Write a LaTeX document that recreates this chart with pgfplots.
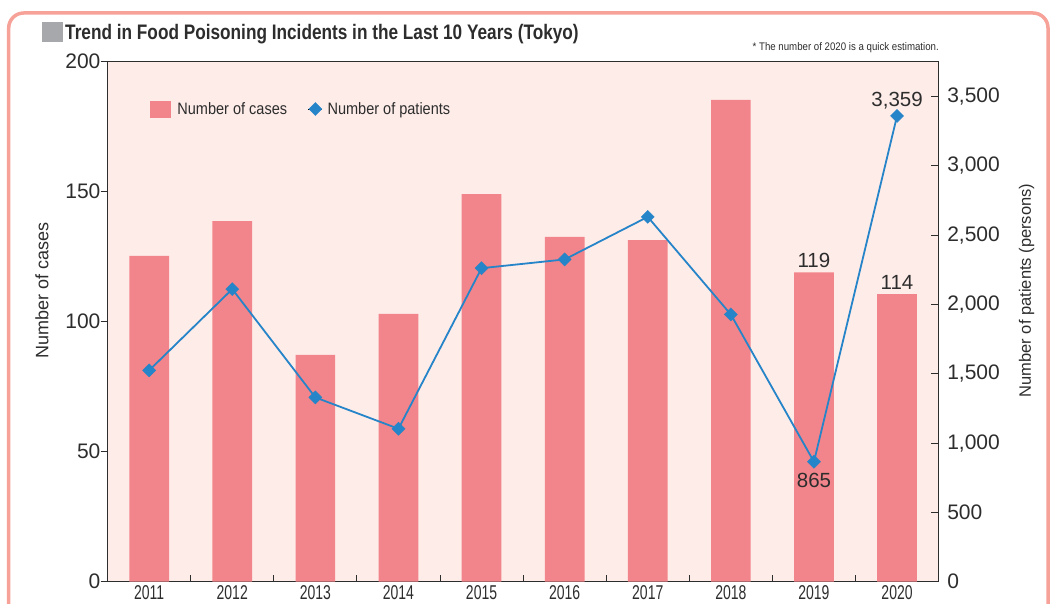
\documentclass[border=0pt]{standalone}
\usepackage{fontspec}
\setmainfont{Liberation Sans}
\newfontfamily\cond[FakeStretch=0.88]{Liberation Sans}
\newfontfamily\xcond[FakeStretch=0.70]{Liberation Sans}
\newfontfamily\titlefont[FakeStretch=0.82]{Liberation Sans}
\usepackage{pgfplots}
\pgfplotsset{compat=1.18}
\definecolor{barc}{RGB}{242,133,139}
\definecolor{bgc}{RGB}{254,236,233}
\definecolor{linec}{RGB}{38,132,200}
\definecolor{framec}{RGB}{246,162,152}
\definecolor{sqc}{RGB}{167,168,172}
\definecolor{txt}{RGB}{45,45,45}
\definecolor{axc}{RGB}{45,45,45}

\pgfplotstableread{
x cases
0 125.3
1 138.7
2 87.2
3 103
4 149.1
5 132.6
6 131.4
7 185.3
8 119
9 110.6
}\casestable

\pgfplotstableread{
x patients
0 1524
1 2110
2 1329
3 1103
4 2261
5 2324
6 2631
7 1927
8 865
9 3359
}\patientstable

\begin{document}
\begin{tikzpicture}[x=1pt,y=1pt]
\useasboundingbox (0,0) rectangle (1051,603);
\draw[framec, line width=3.5pt, rounded corners=15pt] (8.7,-30) -- (8.7,590) -- (1048,590) -- (1048,-30);
\fill[sqc] (42.3,561.3) rectangle (63.3,580.7);
\node[anchor=base west, text=txt, inner sep=0pt] at (65,563) {\titlefont\bfseries\fontsize{21}{21}\selectfont Trend in Food Poisoning Incidents in the Last 10 Years (Tokyo)};
\node[anchor=base east, text=txt, inner sep=0pt] at (939,552) {\cond\fontsize{11}{11}\selectfont * The number of 2020 is a quick estimation.};

\begin{axis}[
  at={(107.6pt,21.3pt)}, anchor=south west,
  scale only axis, width=831pt, height=520pt,
  xmin=-0.5, xmax=9.5, ymin=0, ymax=200,
  axis background/.style={fill=bgc},
  axis line style={axc, line width=1.1pt},
  xtick={0,...,9},
  xticklabels={2011,2012,2013,2014,2015,2016,2017,2018,2019,2020},
  xtick pos=bottom, ytick pos=left,
  major x tick style={draw=none},
  minor xtick={0.5,1.5,...,8.5},
  minor x tick style={axc, line width=1pt},
  minor tick length=7pt,
  xtick align=inside,
  ytick align=outside,
  major tick length=7pt,
  ytick={0,50,...,200},
  y tick style={axc, line width=1pt},
  /pgf/number format/assume math mode=true,
  xticklabel style={text=txt, font=\xcond\fontsize{20}{20}\selectfont, inner sep=0pt, anchor=north, yshift=-4pt},
  yticklabel style={text=txt, font=\fontsize{21}{21}\selectfont, inner sep=0pt},
  ylabel={Number of cases},
  ylabel style={text=txt, font=\fontsize{18}{18}\selectfont, at={(axis description cs:-0.079,0.56)}, anchor=center, rotate=0},
]
\addplot[ybar, bar width=39.7pt, fill=barc, draw=none] table[x=x, y=cases] {\casestable};
\node[anchor=base, text=txt, inner sep=0pt, font=\fontsize{20.5}{20.5}\selectfont] at (axis cs:8,119) [yshift=5pt] {119};
\node[anchor=base, text=txt, inner sep=0pt, font=\fontsize{20.5}{20.5}\selectfont] at (axis cs:9,110.6) [yshift=5pt] {114};
\end{axis}

\begin{axis}[
  at={(107.6pt,21.3pt)}, anchor=south west,
  scale only axis, width=831pt, height=520pt,
  xmin=-0.5, xmax=9.5, ymin=0, ymax=3750,
  axis x line=none,
  axis y line*=right,
  axis line style={axc, line width=1.1pt},
  ytick={0,500,...,3500},
  tick align=inside,
  major tick length=8pt,
  y tick style={axc, line width=1pt},
  scaled y ticks=false,
  /pgf/number format/assume math mode=true,
  yticklabel style={text=txt, font=\fontsize{21}{21}\selectfont, inner sep=0pt, xshift=8.5pt, /pgf/number format/1000 sep={,}},
  ylabel={Number of patients (persons)},
  ylabel style={text=txt, font=\fontsize{16.5}{16.5}\selectfont, at={(axis description cs:1.106,0.56)}, anchor=center},
  legend style={draw=none, fill=none, inner sep=0pt, outer sep=0pt,
    at={(axis description cs:0.051,0.909)}, anchor=west,
    nodes={inner sep=0pt, text=txt, font=\cond\fontsize{16.5}{16.5}\selectfont},
    /tikz/column 1/.style={column sep=7pt},
    /tikz/column 2/.style={column sep=21pt},
    /tikz/column 3/.style={column sep=5pt}},
  legend columns=4,
]
\addlegendimage{legend image code/.code={\fill[barc] (0pt,-8pt) rectangle (20pt,8pt);}}
\addlegendentry{Number of cases}
\addlegendimage{legend image code/.code={\path (0pt,0pt) -- (14pt,0pt); \draw[linec] plot[only marks, mark=square*, mark size=4.6pt, mark options={rotate=45, fill=linec, draw=linec}] coordinates {(7pt,0pt)};}}
\addlegendentry{Number of patients}
\addplot[linec, line width=1.8pt, mark=square*, mark size=4.6pt, mark options={rotate=45, fill=linec, draw=linec, line width=0.5pt}, forget plot] table[x=x, y=patients] {\patientstable};
\node[anchor=base, text=txt, inner sep=0pt, font=\fontsize{20.5}{20.5}\selectfont] at (axis cs:8,865) [yshift=-26pt] {865};
\node[anchor=base, text=txt, inner sep=0pt, font=\fontsize{20.5}{20.5}\selectfont] at (axis cs:9,3359) [yshift=9pt] {3,359};
\end{axis}
\end{tikzpicture}
\end{document}
